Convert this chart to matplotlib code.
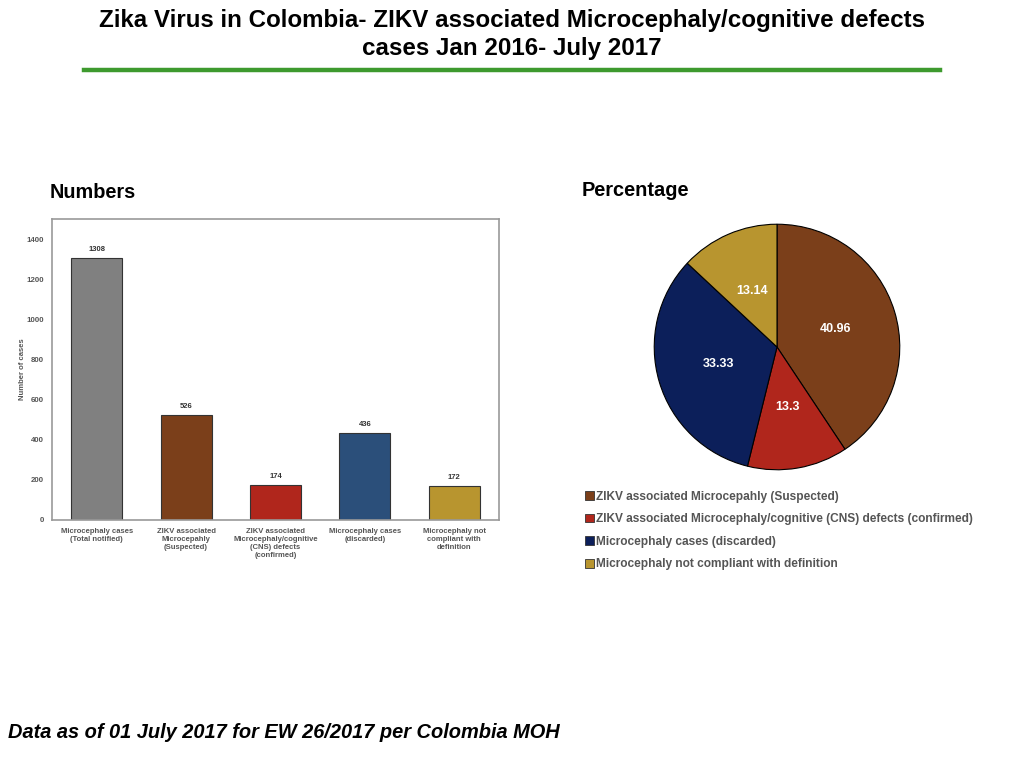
import matplotlib
matplotlib.use("Agg")
import matplotlib.pyplot as plt
import matplotlib.patches as mpatches
import numpy as np

plt.rcParams['font.family'] = ['Liberation Sans', 'DejaVu Sans']

# bar chart data
bar_labels = ["Microcephaly cases\n(Total notified)",
              "ZIKV associated\nMicrocepahly\n(Suspected)",
              "ZIKV associated\nMicrocephaly/cognitive\n(CNS) defects\n(confirmed)",
              "Microcephaly cases\n(discarded)",
              "Microcephaly not\ncompliant with\ndefinition"]
bar_values = [1308, 526, 174, 436, 172]
bar_colors = ["#808080", "#7B3F1A", "#B0261C", "#2B4F7A", "#B8952F"]
y_ticks = [0, 200, 400, 600, 800, 1000, 1200, 1400]

# pie chart data
pie_values = [40.96, 13.3, 33.33, 13.14]
pie_text = ["40.96", "13.3", "33.33", "13.14"]
pie_legend = ["ZIKV associated Microcepahly (Suspected)",
              "ZIKV associated Microcephaly/cognitive (CNS) defects (confirmed)",
              "Microcephaly cases (discarded)",
              "Microcephaly not compliant with definition"]
pie_colors = ["#7B3F1A", "#B0261C", "#0C1F5A", "#B8952F"]

W, H = 1024, 768
fig = plt.figure(figsize=(W / 100, H / 100), dpi=100)


def fx(px):
    return px / W


def fy(py):
    return 1 - py / H


# title and header
fig.text(0.5, fy(20), "Zika Virus in Colombia- ZIKV associated Microcephaly/cognitive defects",
         ha="center", va="center", fontsize=17.4, fontweight="bold")
fig.text(0.5, fy(48), "cases Jan 2016- July 2017",
         ha="center", va="center", fontsize=17.4, fontweight="bold")
fig.add_artist(plt.Line2D([fx(84), fx(940)], [fy(70), fy(70)], color="#3E9A2E", lw=3.2))

fig.text(fx(50), fy(193), "Numbers", ha="left", va="center", fontsize=14.3, fontweight="bold")
fig.text(fx(582), fy(191), "Percentage", ha="left", va="center", fontsize=14.4, fontweight="bold")
fig.text(fx(8), fy(733), "Data as of 01 July 2017 for EW 26/2017 per Colombia MOH",
         ha="left", va="center", fontsize=14.4, fontweight="bold", fontstyle="italic")

# bar chart
ax = fig.add_axes([fx(52), fy(520), fx(499 - 52), (520 - 219) / H])
x = np.arange(len(bar_values))
ax.bar(x, bar_values, width=0.57, color=bar_colors, edgecolor="#333333", linewidth=0.8)
for xi, v in zip(x, bar_values):
    ax.text(xi, v + 25, str(v), ha="center", va="bottom", fontsize=5.5,
            fontweight="bold", color="#333333")
ax.set_xlim(-0.5, 4.5)
ax.set_ylim(0, 1505)
ax.set_yticks(y_ticks)
ax.set_yticklabels([str(t) for t in y_ticks], fontsize=5.7, fontweight="bold", color="#555555")
ax.set_xticks(x)
ax.set_xticklabels(bar_labels, fontsize=5.5, fontweight="bold", color="#555555", va="top")
ax.tick_params(length=0, pad=6)
ax.set_ylabel("Number of cases", fontsize=5.5, fontweight="bold", color="#555555", labelpad=0)
for s in ax.spines.values():
    s.set_color("#999999")
    s.set_linewidth(1.2)

# pie chart
r = 124
pax = fig.add_axes([fx(777 - r), fy(347 + r), 2 * r / W, 2 * r / H])
wedges, _ = pax.pie(pie_values, colors=pie_colors, startangle=90, counterclock=False,
                    wedgeprops=dict(edgecolor="black", linewidth=0.8))
for w, t in zip(wedges, pie_text):
    ang = np.deg2rad((w.theta1 + w.theta2) / 2)
    pax.text(0.5 * np.cos(ang), 0.5 * np.sin(ang), t, ha="center", va="center",
             color="white", fontsize=9, fontweight="bold")
pax.set_xlim(-1.01, 1.01)
pax.set_ylim(-1.01, 1.01)
pax.set_aspect("equal")

handles = [mpatches.Patch(facecolor=c, edgecolor="#333333", linewidth=0.6) for c in pie_colors]
fig.legend(handles, pie_legend, loc="upper left", bbox_to_anchor=(fx(580), fy(486)),
           frameon=False, handlelength=0.75, handleheight=0.75, handletextpad=0.2,
           labelspacing=0.88, borderaxespad=0,
           prop=dict(size=8.6, weight="bold"), labelcolor="#555555")

fig.savefig("out.png", dpi=100)
